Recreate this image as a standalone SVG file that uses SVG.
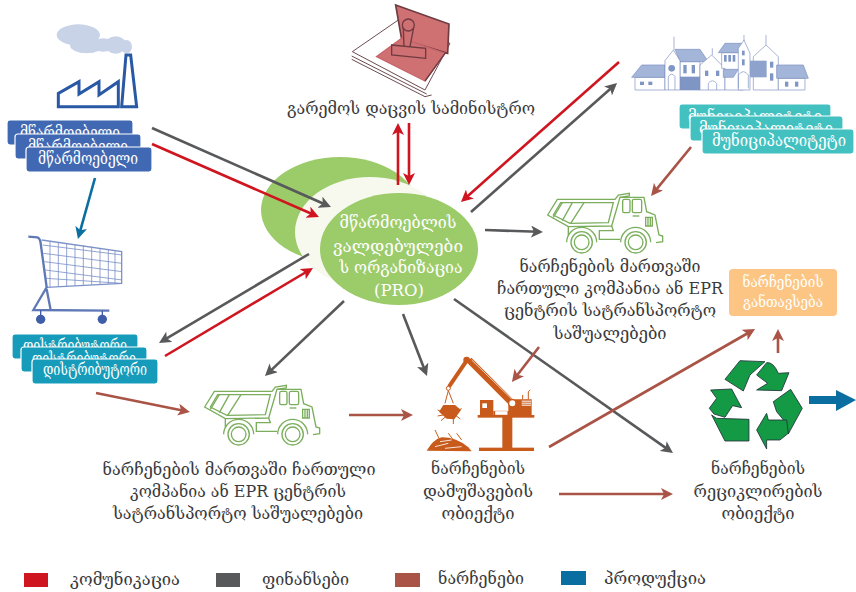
<svg xmlns="http://www.w3.org/2000/svg" xmlns:xlink="http://www.w3.org/1999/xlink" width="856" height="592" viewBox="0 0 856 592">
<style>
text{font-family:"DejaVu Serif","DejaVu Sans",serif;font-size:17.5px;fill:#3a3a3c;text-anchor:middle}
.w{fill:#fff}
.card{stroke:#fff;stroke-width:1.2}
.man{fill:#4168b2}.dis{fill:#169cba}.mun{fill:#43c1c1}
.cn line{stroke-width:2.6;fill:none}
.r{stroke:#cf1620;marker-end:url(#ar)}
.g{stroke:#58595b;marker-end:url(#ag)}
.b{stroke:#a95446;marker-end:url(#ab)}
.bl{stroke:#0a6ea0;marker-end:url(#abl)}
.tk{fill:none;stroke:#7aae5c;stroke-width:4}
.hs{stroke:#7c90bf;stroke-width:2;fill:#fff}
.rf{stroke:#7c90bf;stroke-width:2;fill:#a3b5d8}
.ct{stroke:#7d93c8;fill:none}
.ex{fill:#c85a1b}
.rc{fill:#149a45;stroke:#20303a;stroke-width:2.5}
</style>
<defs>
<marker id="ar" markerUnits="userSpaceOnUse" markerWidth="14" markerHeight="12" refX="7" refY="6" orient="auto"><path d="M0 0L12 6L0 12L3 6Z" fill="#cf1620"/></marker>
<marker id="ag" markerUnits="userSpaceOnUse" markerWidth="14" markerHeight="12" refX="7" refY="6" orient="auto"><path d="M0 0L12 6L0 12L3 6Z" fill="#58595b"/></marker>
<marker id="ab" markerUnits="userSpaceOnUse" markerWidth="14" markerHeight="12" refX="7" refY="6" orient="auto"><path d="M0 0L12 6L0 12L3 6Z" fill="#a95446"/></marker>
<marker id="abl" markerUnits="userSpaceOnUse" markerWidth="14" markerHeight="12" refX="7" refY="6" orient="auto"><path d="M0 0L12 6L0 12L3 6Z" fill="#0a6ea0"/></marker>
<g id="truck">
<path class="tk" d="M143 105L172 58L345 58L355 45L388 40L388 48L360 52L335 138L205 140Z"/>
<path class="tk" d="M160 105L182 68L340 68L325 128L210 130Z"/>
<path class="tk" d="M187 68L160 112M217 68L187 122M252 68L212 130"/>
<path class="tk" d="M360 52L432 52L440 95L465 105L477 165L488 168L488 185L468 188M205 140L205 165M335 138L340 152L298 152L298 178L360 178"/>
<rect class="tk" x="368" y="58" width="22" height="40" rx="5"/>
<rect class="tk" x="397" y="58" width="28" height="40" rx="5"/>
<path class="tk" d="M437 112H457V138H437ZM444 112V138M451 112V138"/>
<path class="tk" d="M398 108H418"/>
<circle class="tk" cx="245" cy="187" r="32"/><circle class="tk" cx="245" cy="187" r="22"/>
<circle class="tk" cx="407" cy="187" r="32"/><circle class="tk" cx="407" cy="187" r="22"/>
<path class="tk" d="M200 187A45 45 0 0 1 290 187M362 187A45 45 0 0 1 452 187"/>
</g>
</defs>
<rect width="856" height="592" fill="#fff"/>

<g id="factory" transform="translate(20 0) scale(.3333)">
<g fill="#c8d3e8"><ellipse cx="175" cy="105" rx="65" ry="32"/><ellipse cx="200" cy="135" rx="50" ry="25"/><ellipse cx="250" cy="135" rx="30" ry="20"/><ellipse cx="287" cy="135" rx="32" ry="26"/><ellipse cx="320" cy="140" rx="16" ry="20"/></g>
<g fill="#fff" stroke="#2958a5" stroke-width="9"><path d="M115 320L115 280L177 245L177 282L237 245L237 285L295 245L295 320Z"/><path d="M305 320L318 165L332 165L350 320Z"/></g>
</g>
<g id="manufacturer">
<rect class="card man" x="7" y="120" width="126" height="25" rx="3"/><text class="w" x="70" y="138" textLength="100" lengthAdjust="spacingAndGlyphs">მწარმოებელი</text>
<rect class="card man" x="15" y="134" width="126" height="25" rx="3"/><text class="w" x="78" y="152" textLength="100" lengthAdjust="spacingAndGlyphs">მწარმოებელი</text>
<rect class="card man" x="26" y="147" width="126" height="25" rx="3"/><text class="w" x="88" y="164" textLength="100" lengthAdjust="spacingAndGlyphs">მწარმოებელი</text>
</g>

<g id="cart" transform="translate(0 230) scale(.3333)">
<g class="ct" stroke-width="2.5">
<path d="M128 45L366 75M130 70L366 100M133 95L366 125M136 120L366 150M138 145L366 160"/>
<path d="M150 33V172M175 36V170M200 40V169M225 43V168M250 46V166M275 50V165M300 54V163M325 58V162M345 61V161"/>
</g>
<path class="ct" stroke-width="4" d="M125 30L365 65L365 160L140 172"/>
<path class="ct" stroke="#4f6bb0" style="stroke:#5f79b6" stroke-width="7" d="M85 20L112 22Q120 24 122 40L140 172L100 240L328 242M140 178L152 240"/>
<g fill="#3f5ea8"><circle cx="122" cy="268" r="14"/><circle cx="307" cy="268" r="14"/></g>
<path stroke="#3f5ea8" stroke-width="4" d="M122 240V255M307 242V255"/>
</g>
<g id="distributor">
<rect class="card dis" x="12" y="334" width="126" height="25" rx="3"/><text class="w" x="75" y="351" textLength="104" lengthAdjust="spacingAndGlyphs">დისტრიბუტორი</text>
<rect class="card dis" x="21" y="347" width="126" height="25" rx="3"/><text class="w" x="84" y="364" textLength="104" lengthAdjust="spacingAndGlyphs">დისტრიბუტორი</text>
<rect class="card dis" x="32" y="359" width="126" height="25" rx="3"/><text class="w" x="95" y="375" textLength="104" lengthAdjust="spacingAndGlyphs">დისტრიბუტორი</text>
</g>

<g id="ministry">
<g transform="translate(260 0) scale(.3333)">
<g fill="#fff" stroke="#6a4a50" stroke-width="3"><path d="M275 178L495 290L515 285"/><path d="M275 168L500 282"/><path d="M277 155L415 60L570 130L495 270Z"/></g>
<path d="M407 15L567 72L563 160L425 118Z" fill="#cf7073" stroke="#6e3b40" stroke-width="5"/>
<path d="M350 170L425 115L555 160L495 243Z" fill="#cf7073" stroke="#c8666a" stroke-width="4"/>
<path d="M495 243L555 160L563 160" fill="none" stroke="#6e3b40" stroke-width="4"/>
<g fill="#cf7073" stroke="#6e3b40" stroke-width="4"><path d="M430 85L460 88L450 140L432 140Z"/><circle cx="445" cy="75" r="18"/><path d="M395 135L497 145L497 175L395 165Z"/></g>
</g>
<text x="411" y="114" textLength="248" lengthAdjust="spacingAndGlyphs">გარემოს დაცვის სამინისტრო</text>
</g>

<g id="town" transform="translate(600 20) scale(.3333)">
<path class="hs" d="M105 172H195V210H105Z"/><path class="rf" d="M95 172L125 135H195V172Z"/>
<path class="hs" d="M240 125H300V210H240Z"/><path class="rf" d="M225 88H300L325 125H240Z"/><rect x="240" y="170" width="60" height="40" fill="#7f96c4"/>
<path class="hs" d="M195 122L220 90L240 122V210H195Z"/><path class="hs" d="M222 50V90" />
<path class="hs" d="M300 135L335 105L375 145V210H300Z"/><path class="hs" d="M337 85V105"/>
<path class="hs" d="M365 98H430V210H375V145H365Z"/><path class="rf" d="M355 98L375 70H430V98Z"/><path class="rf" d="M370 148H415L400 172H370Z"/>
<path class="hs" d="M415 85L432 60L450 100V210H415Z"/><path class="hs" d="M432 45V62"/>
<path class="hs" d="M460 110L498 75L535 110V210H460Z"/><path class="hs" d="M498 45V75"/><rect x="450" y="122" width="50" height="50" fill="#8ea3cc"/>
<path class="hs" d="M535 175H615V210H535Z"/><path class="rf" d="M530 135H610L625 175H530Z"/>
<g fill="#7f96c4"><rect x="120" y="185" width="12" height="10"/><rect x="145" y="185" width="12" height="10"/><circle cx="215" cy="145" r="10"/><rect x="250" y="135" width="10" height="25"/><rect x="275" y="135" width="10" height="25"/><rect x="315" y="152" width="10" height="16"/><rect x="348" y="152" width="10" height="16"/><rect x="372" y="105" width="8" height="20"/><rect x="385" y="105" width="8" height="20"/><rect x="398" y="105" width="8" height="20"/><rect x="426" y="92" width="8" height="14"/><rect x="426" y="118" width="8" height="18"/><rect x="510" y="125" width="10" height="18"/><rect x="510" y="160" width="10" height="22"/><rect x="555" y="185" width="10" height="15"/><rect x="585" y="185" width="10" height="15"/></g>
<path d="M205 210V170Q215 155 225 170V210M325 210V190Q337 175 350 190V210M415 205V165Q430 145 445 165V205" fill="none" stroke="#7c90bf" stroke-width="2"/>
</g>
<g id="municipality">
<rect class="card mun" x="679" y="104" width="152" height="25" rx="3"/><text class="w" x="755" y="122" textLength="134" lengthAdjust="spacingAndGlyphs">მუნიციპალიტეტი</text>
<rect class="card mun" x="690" y="116" width="153" height="25" rx="3"/><text class="w" x="766" y="134" textLength="134" lengthAdjust="spacingAndGlyphs">მუნიციპალიტეტი</text>
<rect class="card mun" x="702" y="129" width="152" height="25" rx="3"/><text class="w" x="779" y="146" textLength="134" lengthAdjust="spacingAndGlyphs">მუნიციპალიტეტი</text>
</g>

<g id="pro">
<ellipse cx="340" cy="210" rx="79" ry="53" fill="#9ccb6a"/>
<ellipse cx="370" cy="232" rx="75" ry="55" fill="#f7f9ee"/>
<ellipse cx="399" cy="249" rx="79" ry="56" fill="#9ccb6a"/>
<text class="w" x="398" y="228" textLength="117" lengthAdjust="spacingAndGlyphs">მწარმოებლის</text>
<text class="w" x="398" y="252" textLength="130" lengthAdjust="spacingAndGlyphs">ვალდებულები</text>
<text class="w" x="401" y="273" textLength="123" lengthAdjust="spacingAndGlyphs">ს ორგანიზაცია</text>
<text class="w" x="399" y="296" textLength="50" lengthAdjust="spacingAndGlyphs">(PRO)</text>
</g>

<g id="truck-right">
<use href="#truck" xlink:href="#truck" transform="translate(500 180) scale(.3333)"/>
<text x="610" y="272" textLength="181" lengthAdjust="spacingAndGlyphs">ნარჩენების მართვაში</text>
<text x="610" y="294" textLength="226" lengthAdjust="spacingAndGlyphs">ჩართული კომპანია ან EPR</text>
<text x="610" y="316" textLength="212" lengthAdjust="spacingAndGlyphs">ცენტრის სატრანსპორტო</text>
<text x="610" y="339" textLength="113" lengthAdjust="spacingAndGlyphs">საშუალებები</text>
</g>

<g id="disposal">
<rect x="729" y="269" width="108" height="47" rx="4" fill="#fdc583"/>
<text class="w" style="font-size:15px" x="783" y="287" textLength="81" lengthAdjust="spacingAndGlyphs">ნარჩენების</text>
<text class="w" style="font-size:15px" x="783" y="307" textLength="80" lengthAdjust="spacingAndGlyphs">განთავსება</text>
</g>

<g id="truck-left">
<use href="#truck" xlink:href="#truck" transform="translate(157 372) scale(.3333)"/>
<text x="239" y="475" textLength="273" lengthAdjust="spacingAndGlyphs">ნარჩენების მართვაში ჩართული</text>
<text x="238" y="497" textLength="216" lengthAdjust="spacingAndGlyphs">კომპანია ან EPR ცენტრის</text>
<text x="238" y="519" textLength="250" lengthAdjust="spacingAndGlyphs">სატრანსპორტო საშუალებები</text>
</g>

<g id="processing">
<g transform="translate(425 350) scale(.3333)">
<g fill="none" stroke="#c85a1b"><path stroke-width="12" d="M125 32L72 110"/><path stroke-width="20" d="M132 30L262 160"/><path stroke="#fbe3d2" stroke-width="2.500" d="M140 30L265 152"/><path stroke-width="3" d="M70 122L60 160M70 122L85 160"/></g>
<circle cx="125" cy="30" r="10" class="ex"/>
<circle cx="70" cy="115" r="6" fill="#fff" stroke="#c85a1b" stroke-width="3"/>
<path class="ex" d="M55 165H90L108 180L88 208L65 206L42 185Z"/>
<path fill="none" stroke="#c85a1b" stroke-width="3" d="M38 180L60 190M38 198L55 195M48 212L62 200M85 222L85 200M106 207L90 195M110 176L90 185"/>
<path class="ex" d="M165 150H205V198H165Z"/><rect x="172" y="160" width="14" height="14" fill="#fff"/>
<rect x="158" y="195" width="170" height="8" class="ex"/>
<path class="ex" d="M250 148H320V198H205V183H250Z"/><rect x="210" y="183" width="38" height="12" fill="#fff" stroke="#c85a1b"/>
<circle cx="262" cy="160" r="11" fill="#fff" stroke="#c85a1b" stroke-width="4"/>
<rect x="290" y="152" width="28" height="3" fill="#fff"/><rect x="290" y="158" width="28" height="3" fill="#fff"/><rect x="290" y="164" width="28" height="3" fill="#fff"/>
<path fill="none" stroke="#c85a1b" stroke-width="3" d="M310 148V125L316 120M293 148V135"/>
<rect x="232" y="200" width="30" height="95" class="ex"/>
<rect x="162" y="293" width="165" height="10" class="ex"/>
<path class="ex" d="M5 302Q25 268 50 262Q95 262 130 292L140 304Z"/>
<path fill="none" stroke="#c85a1b" stroke-width="3" d="M30 240L42 265M70 250L85 270M95 250L110 270"/>
<path fill="none" stroke="#fff" stroke-width="2.500" d="M30 290L70 280M60 295L110 290M45 275L80 270"/>
</g>
<text x="478" y="474" textLength="94" lengthAdjust="spacingAndGlyphs">ნარჩენების</text>
<text x="478" y="497" textLength="110" lengthAdjust="spacingAndGlyphs">დამუშავების</text>
<text x="478" y="519" textLength="73" lengthAdjust="spacingAndGlyphs">ობიექტი</text>
</g>

<g id="recycling">
<g transform="translate(400 340) scale(.3333)">
<path class="rc" d="M975 118L1020 62L1095 65L1050 105L1030 153Z"/>
<path class="rc" d="M1070 150L1103 130L1070 105L1100 68Q1120 65 1135 100L1167 98L1145 152Z"/>
<path class="rc" d="M1120 185L1172 148L1207 205L1165 282L1155 245L1130 215Z"/>
<path class="rc" d="M1070 270L1100 220L1105 240L1160 240L1165 280L1140 300H1100L1100 327Z"/>
<path class="rc" d="M935 225L950 235L1047 238V303H975Z"/>
<path class="rc" d="M932 150L995 147L1025 203L998 197L975 232L942 222L928 205L950 175Z"/>
</g>
<text x="758" y="474" textLength="94" lengthAdjust="spacingAndGlyphs">ნარჩენების</text>
<text x="758" y="497" textLength="129" lengthAdjust="spacingAndGlyphs">რეციკლირების</text>
<text x="758" y="519" textLength="73" lengthAdjust="spacingAndGlyphs">ობიექტი</text>
</g>

<g id="connectors" class="cn">
<line class="g" x1="152" y1="128" x2="326.4" y2="205"/>
<line class="r" x1="152" y1="144" x2="314.4" y2="215"/>
<line class="bl" x1="95" y1="178" x2="79.3" y2="234.2"/>
<line class="g" x1="309" y1="254" x2="163.3" y2="340.4"/>
<line class="r" x1="165" y1="356" x2="308.7" y2="270.5"/>
<line class="g" x1="344" y1="301" x2="268.6" y2="372.6"/>
<line class="b" x1="96" y1="393" x2="185" y2="411"/>
<line class="b" x1="349" y1="415" x2="408" y2="415"/>
<line class="g" x1="403" y1="314" x2="425.2" y2="371.3"/>
<line class="g" x1="454" y1="299" x2="668.9" y2="450.1"/>
<line class="b" x1="549" y1="447" x2="750.7" y2="331.5"/>
<line class="b" x1="778" y1="353" x2="778" y2="334"/>
<line class="b" x1="539" y1="347" x2="515" y2="378"/>
<line class="b" x1="559" y1="494" x2="668" y2="494"/>
<line class="r" x1="398" y1="185" x2="398" y2="128"/>
<line class="r" x1="409" y1="123" x2="409" y2="180"/>
<line class="r" x1="619" y1="62" x2="464.7" y2="198.7"/>
<line class="g" x1="471" y1="212" x2="613.3" y2="86.3"/>
<line class="g" x1="485" y1="230" x2="538" y2="231.8"/>
<line class="b" x1="691" y1="147" x2="654.2" y2="192.1"/>
<path d="M809 396H836V390L856 400L836 411V404H809Z" fill="#0a6ea0"/>
</g>

<g id="legend">
<rect x="24" y="573" width="24" height="14" fill="#cf1620"/><text x="125" y="585" textLength="110" lengthAdjust="spacingAndGlyphs">კომუნიკაცია</text>
<rect x="216" y="573" width="24" height="14" fill="#58595b"/><text x="305.500" y="585" textLength="87" lengthAdjust="spacingAndGlyphs">ფინანსები</text>
<rect x="395" y="573" width="25" height="14" fill="#a95446"/><text x="481" y="584" textLength="86" lengthAdjust="spacingAndGlyphs">ნარჩენები</text>
<rect x="561" y="571" width="25" height="14" fill="#0a6ea0"/><text x="655" y="584" textLength="102" lengthAdjust="spacingAndGlyphs">პროდუქცია</text>
</g>
</svg>
